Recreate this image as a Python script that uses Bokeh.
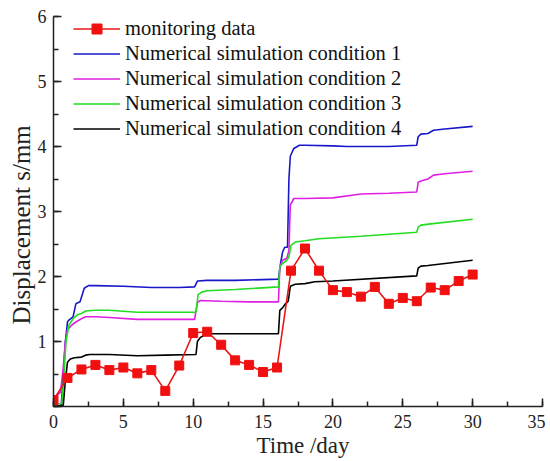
from bokeh.plotting import figure
from bokeh.models import Legend, LegendItem, SingleIntervalTicker, Range1d, Title
from bokeh.embed import file_html
from bokeh.resources import INLINE

# ---- data ----
t_mon = [0, 1, 2, 3, 4, 5, 6, 7, 8, 9, 10, 11, 12, 13, 14, 15, 16, 17, 18, 19,
         20, 21, 22, 23, 24, 25, 26, 27, 28, 29, 30]
mon = [0.10, 0.44, 0.57, 0.64, 0.56, 0.60, 0.51, 0.56, 0.24, 0.63, 1.13, 1.15,
       0.95, 0.71, 0.64, 0.53, 0.60, 2.09, 2.43, 2.09, 1.79, 1.76, 1.69, 1.84,
       1.58, 1.67, 1.62, 1.83, 1.79, 1.93, 2.03]

t_c1 = [0, 0.55, 0.7, 0.85, 1.0, 1.1, 1.4, 1.6, 1.9, 2.2, 2.5, 3.0, 5.0, 7.0,
        9.0, 10.1, 10.3, 11.0, 13.0, 16.1, 16.25, 16.4, 16.55, 16.75, 16.85,
        16.95, 17.2, 17.6, 18.0, 20.0, 21.0, 24.0, 26.0, 26.1, 26.3, 26.8, 27.2,
        28.0, 30.0]
c1 = [0, 0, 0.5, 1.0, 1.3, 1.33, 1.38, 1.58, 1.61, 1.82, 1.86, 1.86, 1.85, 1.83,
      1.83, 1.84, 1.93, 1.94, 1.94, 1.96, 2.2, 2.38, 2.45, 2.45, 3.5, 3.85, 3.97,
      4.02, 4.02, 4.01, 4.00, 4.00, 4.02, 4.15, 4.19, 4.20, 4.25, 4.27, 4.31]

t_c2 = [0, 0.15, 0.5, 0.7, 0.85, 1.0, 1.3, 1.6, 2.0, 2.3, 2.6, 3.0, 4.0, 6.0,
        8.0, 10.1, 10.3, 10.5, 12.0, 14.0, 16.1, 16.2, 16.4, 16.7, 16.85, 16.95,
        17.2, 18.0, 20.0, 22.0, 24.0, 26.0, 26.1, 26.3, 26.8, 27.2, 28.0, 30.0]
c2 = [0.12, 0.15, 0.22, 0.6, 1.0, 1.18, 1.25, 1.30, 1.35, 1.38, 1.38, 1.38, 1.37,
      1.34, 1.34, 1.34, 1.60, 1.63, 1.62, 1.61, 1.61, 2.15, 2.25, 2.28, 2.40,
      3.10, 3.20, 3.20, 3.21, 3.27, 3.28, 3.30, 3.45, 3.47, 3.50, 3.56, 3.58, 3.62]

t_c3 = [0, 0.6, 0.75, 0.9, 1.1, 1.4, 1.7, 2.0, 2.3, 3.0, 4.0, 6.0, 8.0, 10.2,
        10.35, 10.6, 11.0, 13.0, 16.1, 16.2, 16.4, 16.7, 16.85, 17.0, 17.3, 18.0,
        19.0, 22.0, 26.0, 26.1, 26.3, 27.0, 30.0]
c3 = [0.02, 0.05, 0.5, 1.0, 1.25, 1.35, 1.41, 1.43, 1.47, 1.48, 1.48, 1.45, 1.45,
      1.45, 1.72, 1.76, 1.78, 1.80, 1.84, 2.15, 2.20, 2.25, 2.30, 2.48, 2.53,
      2.55, 2.58, 2.62, 2.68, 2.76, 2.79, 2.81, 2.88]

t_c4 = [0, 0.7, 0.85, 1.0, 1.2, 1.5, 2.0, 2.3, 2.6, 4.0, 6.0, 8.0, 10.2, 10.3,
        10.5, 10.8, 11.2, 13.0, 16.1, 16.2, 16.4, 16.6, 16.8, 16.95, 17.3, 18.0,
        18.7, 20.0, 26.0, 26.1, 26.3, 26.8, 30.0]
c4 = [0.0, 0.02, 0.4, 0.68, 0.73, 0.75, 0.76, 0.79, 0.80, 0.80, 0.78, 0.79, 0.80,
      1.00, 1.06, 1.10, 1.12, 1.12, 1.12, 1.48, 1.52, 1.58, 1.62, 1.85, 1.88,
      1.89, 1.92, 1.93, 2.01, 2.13, 2.16, 2.17, 2.25]

labels = ["monitoring data", "Numerical simulation condition 1",
          "Numerical simulation condition 2", "Numerical simulation condition 3",
          "Numerical simulation condition 4"]
x_title = "Time /day"
y_title = "Displacement s/mm"

FONT = "Liberation Serif"
TXT = "#222222"

p = figure(frame_width=489, frame_height=390, output_backend="svg",
           toolbar_location=None, x_range=Range1d(0, 35), y_range=Range1d(0, 6),
           min_border_left=53, min_border_top=16, min_border_right=3,
           min_border_bottom=54)
p.xgrid.visible = False
p.ygrid.visible = False
p.outline_line_color = None
p.background_fill_color = "white"

p.xaxis.ticker = SingleIntervalTicker(interval=5, num_minor_ticks=2)
p.yaxis.ticker = SingleIntervalTicker(interval=1, num_minor_ticks=2)
p.yaxis.major_label_overrides = {0: ""}

for ax in (p.xaxis, p.yaxis):
    ax.major_tick_in = 8
    ax.major_tick_out = 0
    ax.minor_tick_in = 5
    ax.minor_tick_out = 0
    ax.axis_line_width = 1.5
    ax.major_tick_line_width = 1.5
    ax.minor_tick_line_width = 1.5
    ax.axis_line_color = TXT
    ax.major_tick_line_color = TXT
    ax.minor_tick_line_color = TXT
    ax.major_label_text_font = FONT
    ax.major_label_text_font_size = "18px"
    ax.major_label_text_color = TXT

p.xaxis.major_label_standoff = 8
p.yaxis.major_label_standoff = 7

# axis titles as side titles, offset to match the reference placement
p.add_layout(Title(text=x_title, align="left", offset=203, standoff=0,
                   text_font=FONT, text_font_size="23px", text_font_style="normal",
                   text_color=TXT), "below")
p.add_layout(Title(text=y_title, align="left", offset=82, standoff=0,
                   text_font=FONT, text_font_size="25px", text_font_style="normal",
                   text_color=TXT), "left")

lw = 1.6
r1 = p.line(t_c1, c1, line_color="#1818c8", line_width=lw)
r2 = p.line(t_c2, c2, line_color="#e020e0", line_width=lw)
r3 = p.line(t_c3, c3, line_color="#22dd22", line_width=lw)
r4 = p.line(t_c4, c4, line_color="#000000", line_width=lw)
rm_line = p.line(t_mon, mon, line_color="#e81515", line_width=1.6)
rm_pts = p.scatter(t_mon, mon, marker="square", size=9, fill_color="#f01010",
                   line_color="#f01010")

legend = Legend(items=[
    LegendItem(label=labels[0], renderers=[rm_line, rm_pts]),
    LegendItem(label=labels[1], renderers=[r1]),
    LegendItem(label=labels[2], renderers=[r2]),
    LegendItem(label=labels[3], renderers=[r3]),
    LegendItem(label=labels[4], renderers=[r4]),
])
legend.location = (20, 265)
legend.border_line_color = None
legend.background_fill_alpha = 0
legend.padding = 0
legend.margin = 0
legend.spacing = 0
legend.glyph_width = 47
legend.glyph_height = 25
legend.label_height = 25
legend.label_standoff = 5
legend.label_text_font = FONT
legend.label_text_font_size = "20.5px"
legend.label_text_color = "#111111"
p.add_layout(legend)

open("out.html", "w").write(file_html(p, INLINE))
